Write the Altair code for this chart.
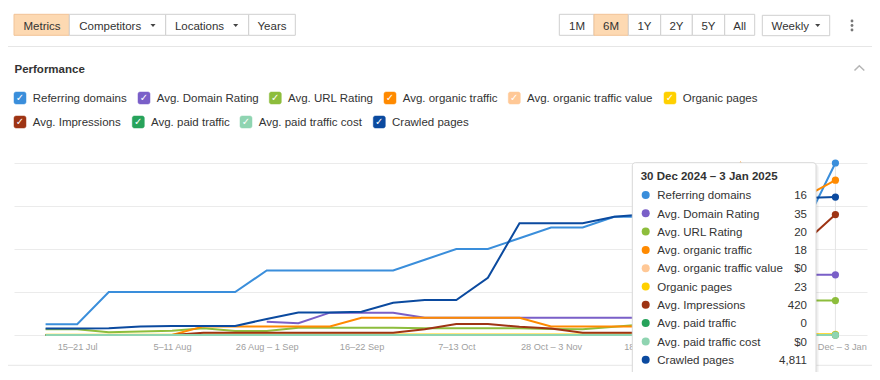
import altair as alt
import pandas as pd

FONT = "Liberation Sans"

# ---------------- data ----------------
weeks = ["8–14 Jul", "15–21 Jul", "22–28 Jul", "29 Jul – 4 Aug", "5–11 Aug", "12–18 Aug",
         "19–25 Aug", "26 Aug – 1 Sep", "2–8 Sep", "9–15 Sep", "16–22 Sep", "23–29 Sep",
         "30 Sep – 6 Oct", "7–13 Oct", "14–20 Oct", "21–27 Oct", "28 Oct – 3 Nov", "4–10 Nov",
         "11–17 Nov", "18–24 Nov", "25 Nov – 1 Dec", "2–8 Dec", "9–15 Dec", "16–22 Dec",
         "23–29 Dec", "30 Dec – 3 Jan"]
# every third week is labelled; "9–15 Dec" sits fully under the tooltip in the reference
tick_weeks = [w for w in weeks[1::3] if w != "9–15 Dec"]

series_names = ["Referring domains", "Avg. Domain Rating", "Avg. URL Rating", "Avg. organic traffic",
                "Avg. organic traffic value", "Organic pages", "Avg. Impressions", "Avg. paid traffic",
                "Avg. paid traffic cost", "Crawled pages"]
series_colors = ["#3a8edb", "#7a5fc8", "#8dbd3c", "#ff8a00", "#ffc896", "#ffd000",
                 "#9e3414", "#27a35b", "#8fd4b1", "#0b4a9f"]
# each metric is drawn on its own scale (0 .. scale max)
series_max = [16, 100, 100, 20, 10, 6000, 600, 10, 10, 6000]
series_prefix = ["", "", "", "", "$", "", "", "", "$", ""]

referring_domains = [1, 1, 4, 4, 4, 4, 4, 6, 6, 6, 6, 6, 7, 8, 8, 9, 10, 10, 11, 11, 11, 11, 11, 11, 10, 16]
domain_rating = [None, None, None, None, None, None, None, 7.7, 6.8, 13, 13, 13, 10, 10, 10, 10, 10, 10,
                 10, 10, 15, 25, 30, 35, 35, 35]
url_rating = [3.3, 3.3, 1.6, 2, 2.5, 3.9, 2.3, 2.3, 4.2, 4.2, 4.2, 4.2, 3.9, 3.9, 3.9, 3.9, 3.5, 3.3,
              4.8, 6.2, 8, 10, 13, 16, 20, 20]
organic_traffic = [0, 0, 0, 0, 0, 1, 1, 1, 1, 1, 2, 2, 2, 2, 2, 2, 1, 1, 1, 1, 3, 8, 20, 17, 16, 18]
organic_traffic_value = [0] * 26
organic_pages = [10, 10, 10, 10, 12, 15, 15, 15, 18, 18, 18, 20, 20, 20, 20, 20, 21, 21, 21, 22, 22, 22,
                 23, 23, 23, 23]
impressions = [0, 0, 0, 0, 0, 8, 8, 8, 8, 8, 8, 8, 20, 38, 38, 29, 23, 8, 8, 8, 60, 150, 250, 300, 320, 420]
paid_traffic = [0] * 26
paid_traffic_cost = [0] * 26
crawled_pages = [230, 230, 235, 300, 310, 310, 314, 558, 785, 785, 813, 1127, 1221, 1221, 1999, 3897, 3897,
                 3897, 4127, 4210, 4350, 4500, 4600, 4700, 4776, 4811]

series_values = [referring_domains, domain_rating, url_rating, organic_traffic, organic_traffic_value,
                 organic_pages, impressions, paid_traffic, paid_traffic_cost, crawled_pages]

tooltip_title = "30 Dec 2024 – 3 Jan 2025"

rows = []
for name, vals, mx in zip(series_names, series_values, series_max):
    for w, v in zip(weeks, vals):
        rows.append({"week": w, "series": name, "value": v,
                     "norm": (None if v is None else v / mx)})
df = pd.DataFrame(rows)
df_last = df[df.week == weeks[-1]]

# ---------------- layout (screen px; plot area origin at 14,163) ----------------
OX, OY = 14, 163
W, H = 853, 172


def px(x):
    return x - OX


def py(y):
    return y - OY


def XQ(f):
    return alt.X(f, type="quantitative", scale=None, axis=None)


def YQ(f):
    return alt.Y(f, type="quantitative", scale=None, axis=None)


def text_layer(recs, align="left", bold=False, size=11.5, font=FONT, baseline="alphabetic"):
    d = pd.DataFrame(recs, columns=["x", "y", "t", "c"])
    d["x"] = d["x"] - OX
    d["y"] = d["y"] - OY
    return alt.Chart(d).mark_text(align=align, baseline=baseline, font=font, fontSize=size,
                                  fontWeight="bold" if bold else "normal").encode(
        x=XQ("x"), y=YQ("y"), text="t:N", color=alt.Color("c:N", scale=None))


def rect_layer(recs, radius=0, stroke_width=1):
    d = pd.DataFrame(recs, columns=["x", "x2", "y", "y2", "fill", "stroke"])
    for c in ["x", "x2"]:
        d[c] = d[c] - OX
    for c in ["y", "y2"]:
        d[c] = d[c] - OY
    return alt.Chart(d).mark_rect(cornerRadius=radius, strokeWidth=stroke_width).encode(
        x=XQ("x"), x2="x2:Q", y=YQ("y"), y2="y2:Q",
        fill=alt.Fill("fill:N", scale=None), stroke=alt.Stroke("stroke:N", scale=None))


TXT = "#333333"
ACTIVE = "#fdd9b2"
ACTIVE_BORDER = "#f2c497"
BORDER = "#cfcfcf"

# toolbar buttons
btn_rects = [
    (14, 69.3, 14.3, 35.3, ACTIVE, ACTIVE_BORDER),
    (69.3, 165.7, 14.3, 35.3, "#ffffff", BORDER),
    (165.7, 248.7, 14.3, 35.3, "#ffffff", BORDER),
    (248.7, 295.3, 14.3, 35.3, "#ffffff", BORDER),
    (559.3, 594, 14.3, 35.3, "#ffffff", BORDER),
    (594, 628.3, 14.3, 35.3, ACTIVE, ACTIVE_BORDER),
    (628.3, 660.7, 14.3, 35.3, "#ffffff", BORDER),
    (660.7, 692.3, 14.3, 35.3, "#ffffff", BORDER),
    (692.3, 724.7, 14.3, 35.3, "#ffffff", BORDER),
    (724.7, 754.7, 14.3, 35.3, "#ffffff", BORDER),
    (762.3, 829.7, 15.3, 35.7, "#ffffff", BORDER),
]
btn_texts = [
    (42, 30, "Metrics", TXT), (110.2, 30, "Competitors", TXT), (199.5, 30, "Locations", TXT),
    (272, 30, "Years", TXT), (577, 30, "1M", TXT), (611, 30, "6M", TXT), (644.5, 30, "1Y", TXT),
    (676.5, 30, "2Y", TXT), (708.5, 30, "5Y", TXT), (739.7, 30, "All", TXT), (790.3, 30, "Weekly", TXT),
]
arrows = pd.DataFrame({"x": [px(153), px(235.7), px(817.7)], "y": [py(25.5)] * 3})
kebab = pd.DataFrame({"x": [px(852)] * 3, "y": [py(21), py(25.5), py(30)]})
chevron = pd.DataFrame({"x": [px(854.5), px(859.3), px(864.3)], "y": [py(70.5), py(65.7), py(70.5)],
                        "o": [0, 1, 2]})
separators = pd.DataFrame({"x": [px(8), px(8)], "x2": [px(872), px(872)],
                           "y": [py(46.5), py(365.3)], "y2": [py(46.5), py(365.3)]})

title_texts = [(14.5, 73.3, "Performance", TXT)]

# legend with checkboxes
legend_box_x = [14, 138, 269.3, 384, 508.3, 664, 14, 132.3, 240, 373.3]
legend_box_y = [92] * 6 + [116] * 4
legend_rects = [(bx, bx + 12, by, by + 12, c, c) for bx, by, c in zip(legend_box_x, legend_box_y, series_colors)]
legend_texts = [(bx + 18.7, by + 9.7, n, TXT) for bx, by, n in zip(legend_box_x, legend_box_y, series_names)]
check_texts = [(bx + 6, by + 6.3, "✓", "#ffffff") for bx, by in zip(legend_box_x, legend_box_y)]

# tooltip
tt_rect = [(632.3, 816, 162.7, 375, "#ffffff", "#d8d8d8")]
tt_shadow = [(633.3, 818, 164, 377, "#000000", "#000000")]


def fmt(v, prefix):
    return prefix + f"{int(round(v)):,}"


tt_labels, tt_values, tt_dots = [], [], []
for k, (name, vals, pre, col) in enumerate(zip(series_names, series_values, series_prefix, series_colors)):
    yc = 195 + 18.3 * k
    tt_labels.append((657.3, yc + 4.2, name, TXT))
    tt_values.append((807, yc + 4.2, fmt(vals[-1], pre), TXT))
    tt_dots.append({"x": px(645.7), "y": py(yc), "c": col})
tt_dots = pd.DataFrame(tt_dots)
tt_title = [(640.7, 180, tooltip_title, TXT)]

# ---------------- chart ----------------
xenc = alt.X("week:O", scale=alt.Scale(type="point", padding=1.4, domain=weeks),
             axis=alt.Axis(values=tick_weeks, title=None, ticks=False, domain=False, grid=False,
                           labelAngle=0, labelColor="#a0a0a0", labelFont=FONT, labelFontSize=9.2,
                           labelPadding=7, labelOverlap=False))
yenc = alt.Y("norm:Q", scale=alt.Scale(domain=[0, 1], nice=False, zero=True),
             axis=alt.Axis(values=[0, 0.25, 0.5, 0.75, 1], labels=False, ticks=False, domain=False,
                           title=None, grid=True, gridColor="#ebebeb", gridWidth=1))

line_layers = []
for name, color in zip(series_names, series_colors):
    sub = df[df.series == name]
    line_layers.append(alt.Chart(sub).mark_line(color=color, strokeWidth=2).encode(x=xenc, y=yenc))

hover_rule = alt.Chart(pd.DataFrame({"week": [weeks[-1]]})).mark_rule(color="#e4e4e4", strokeWidth=1).encode(x=xenc)
last_points = alt.Chart(df_last).mark_circle(size=52, opacity=1).encode(
    x=xenc, y=yenc,
    color=alt.Color("series:N", scale=alt.Scale(domain=series_names, range=series_colors), legend=None))

data_chart = alt.layer(hover_rule, *line_layers, last_points)

ui_bg = alt.layer(
    alt.Chart(separators).mark_rule(color="#e6e6e6", strokeWidth=1).encode(
        x=XQ("x"), x2="x2:Q", y=YQ("y"), y2="y2:Q"),
    rect_layer(btn_rects),
    text_layer(btn_texts, align="center"),
    alt.Chart(arrows).mark_point(shape="M-1,-0.55L1,-0.55L0,0.55Z", size=26, filled=True, opacity=1,
                                 color="#444444").encode(x=XQ("x"), y=YQ("y")),
    alt.Chart(kebab).mark_circle(size=8, opacity=1, color="#777777").encode(x=XQ("x"), y=YQ("y")),
    alt.Chart(chevron).mark_line(color="#b5b5b5", strokeWidth=1.5).encode(x=XQ("x"), y=YQ("y"),
                                                                          order="o:Q"),
    text_layer(title_texts, bold=True),
    rect_layer(legend_rects, radius=2, stroke_width=0.5),
    text_layer(check_texts, align="center", bold=True, size=10, font="DejaVu Sans", baseline="middle"),
    text_layer(legend_texts),
)

ui_fg = alt.layer(
    rect_layer(tt_shadow, radius=4, stroke_width=0).mark_rect(cornerRadius=4, opacity=0.06),
    rect_layer(tt_rect, radius=3),
    text_layer(tt_title, bold=True),
    alt.Chart(tt_dots).mark_circle(size=64, opacity=1).encode(x=XQ("x"), y=YQ("y"),
                                                             color=alt.Color("c:N", scale=None)),
    text_layer(tt_labels),
    text_layer(tt_values, align="right"),
)

chart = alt.layer(ui_bg, data_chart, ui_fg).resolve_scale(
    x="independent", y="independent", color="independent"
).properties(
    width=W, height=H,
    padding={"left": 6, "top": 155, "right": 5, "bottom": 37},
    autosize=alt.AutoSizeParams(type="none"),
    background="#ffffff",
).configure_view(stroke=None)

chart.save("out.html", embed_options={"renderer": "svg", "actions": False})
